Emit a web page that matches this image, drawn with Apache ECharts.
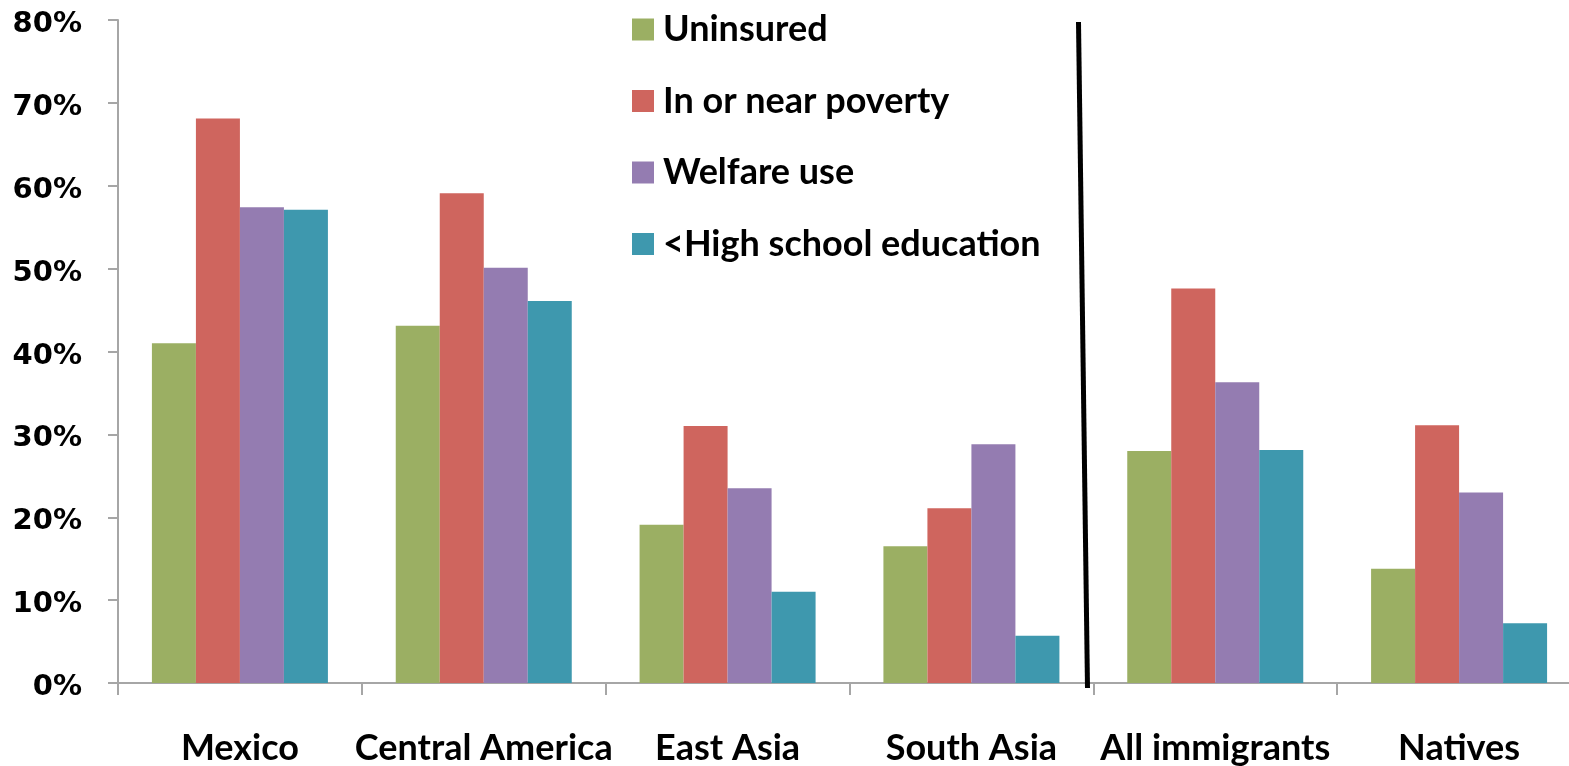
<!DOCTYPE html>
<html>
<head>
<meta charset="utf-8">
<script src="https://cdn.jsdelivr.net/npm/echarts@6/dist/echarts.min.js"></script>
<style>
  html, body { margin: 0; padding: 0; background: #fff; overflow: hidden; }
  #chart { width: 1569px; height: 766px; }
</style>
</head>
<body>
<div id="chart"></div>
<script>
// Groups along the x axis
const categories = ['Mexico', 'Central America', 'East Asia', 'South Asia', 'All immigrants', 'Natives'];

// Shares in percent, one value per group
const uninsured = [41.0, 43.1, 19.1, 16.5, 28.0, 13.8];
const poverty   = [68.1, 59.1, 31.0, 21.1, 47.6, 31.1];
const welfare   = [57.4, 50.1, 23.5, 28.8, 36.3, 23.0];
const noHighSchool = [57.1, 46.1, 11.0, 5.7, 28.1, 7.2];

const seriesNames = ['Uninsured', 'In or near poverty', 'Welfare use', '<High school education'];
const seriesColors = ['#9BAF63', '#CF655E', '#947CB1', '#3E98AE'];
const seriesData = [uninsured, poverty, welfare, noHighSchool];

const chart = echarts.init(document.getElementById('chart'));

const labelFont = 'Lato, "Open Sans", sans-serif';

chart.setOption({
  animation: false,
  backgroundColor: '#ffffff',
  // plot area runs slightly past the right edge of the canvas
  grid: { left: 118, width: 1463, top: 20, height: 663, outerBoundsMode: 'none', containLabel: false },
  legend: {
    orient: 'vertical',
    left: 632,
    top: 9,
    padding: 0,
    itemWidth: 22,
    itemHeight: 22,
    itemGap: 30.5,
    icon: 'rect',
    textStyle: { fontFamily: labelFont, fontWeight: 'bold', fontSize: 36, lineHeight: 36, color: '#000', padding: [5, 0, 0, 4] },
    data: seriesNames
  },
  xAxis: {
    type: 'category',
    data: categories,
    axisLine: { lineStyle: { color: '#a6a6a6', width: 2 } },
    axisTick: { show: true, length: 12, lineStyle: { color: '#a6a6a6', width: 2 } },
    axisLabel: { margin: 47, color: '#000', fontFamily: labelFont, fontWeight: 'bold', fontSize: 36, interval: 0 }
  },
  yAxis: {
    type: 'value',
    min: 0,
    max: 80,
    interval: 10,
    splitLine: { show: false },
    axisLine: { show: true, lineStyle: { color: '#a6a6a6', width: 2 } },
    axisTick: { show: true, length: 10, lineStyle: { color: '#a6a6a6', width: 2 } },
    axisLabel: {
      margin: 36,
      formatter: v => '{p|' + v + '%}',
      rich: {
        p: {
          color: '#000',
          fontFamily: '"DejaVu Sans", sans-serif',
          fontWeight: 'bold',
          fontSize: 29,
          padding: [9, 0, 0, 0]
        }
      }
    }
  },
  series: seriesNames.map((name, i) => ({
    name: name,
    type: 'bar',
    data: seriesData[i],
    barWidth: 44,
    barGap: '0%',
    itemStyle: { color: seriesColors[i] }
  })),
  // Divider between the regional groups and the overall comparison groups
  graphic: [{
    type: 'line',
    shape: { x1: 1078.5, y1: 22, x2: 1087.5, y2: 688 },
    style: { stroke: '#000', lineWidth: 5 },
    z: 100
  }]
});
</script>
</body>
</html>
